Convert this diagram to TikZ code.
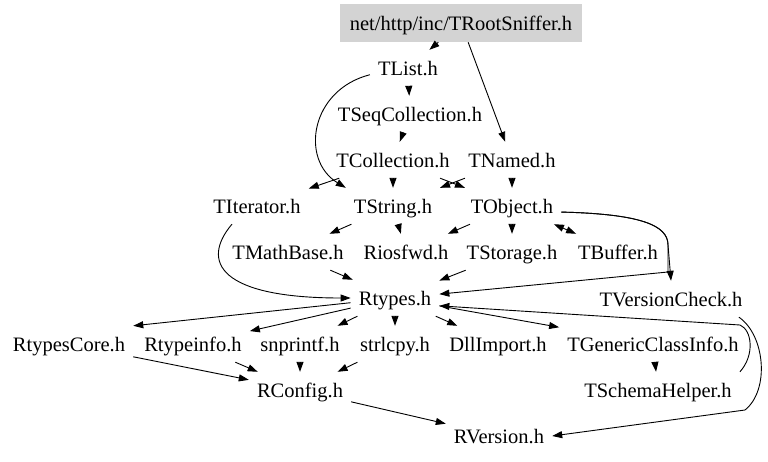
\documentclass[tikz,border=0pt]{standalone}
\usepackage{fontspec}
\setmainfont{Liberation Serif}
\usetikzlibrary{arrows.meta}
\definecolor{rootgray}{HTML}{D3D3D3}
\begin{document}
\begin{tikzpicture}[x=1pt,y=-1pt,
    >={Triangle[length=10pt,width=7pt]},
    hfile/.style={inner xsep=8pt,inner ysep=0pt,minimum height=36pt,
      text height=18pt,text depth=4pt,font=\fontsize{20.5}{24}\selectfont},
    hroot/.style={hfile,fill=rootgray,minimum width=242pt,minimum height=38pt},
    incl/.style={->,line width=0.9pt}]
    \useasboundingbox (0,0) rectangle (768,461);
    % header files, one row per include depth
    \node [hroot] (root) at (461,23) {net/http/inc/TRootSniffer.h};
    \node [hfile] (tlist) at (408,68) {TList.h};
    \node [hfile] (tseq) at (410,114) {TSeqCollection.h};
    \node [hfile] (tcoll) at (393,160) {TCollection.h};
    \node [hfile] (tnamed) at (512,160) {TNamed.h};
    \node [hfile] (titer) at (257,206) {TIterator.h};
    \node [hfile] (tstring) at (393,206) {TString.h};
    \node [hfile] (tobject) at (512,206) {TObject.h};
    \node [hfile] (tmath) at (288,252) {TMathBase.h};
    \node [hfile] (riosfwd) at (406,252) {Riosfwd.h};
    \node [hfile] (tstorage) at (512,252) {TStorage.h};
    \node [hfile] (tbuffer) at (618,252) {TBuffer.h};
    \node [hfile] (rtypes) at (395,298) {Rtypes.h};
    \node [hfile] (tversion) at (671,299) {TVersionCheck.h};
    \node [hfile] (rtcore) at (69,344) {RtypesCore.h};
    \node [hfile] (rtinfo) at (193,344) {Rtypeinfo.h};
    \node [hfile] (snprintf) at (300,344) {snprintf.h};
    \node [hfile] (strlcpy) at (395,344) {strlcpy.h};
    \node [hfile] (dllimp) at (498,344) {DllImport.h};
    \node [hfile] (tgci) at (653,344) {TGenericClassInfo.h};
    \node [hfile] (rconfig) at (300,390) {RConfig.h};
    \node [hfile] (tschema) at (658,390) {TSchemaHelper.h};
    \node [hfile] (rversion) at (499,436) {RVersion.h};
    % includes
    \draw [incl] (root) -- (tlist);
    \draw [incl] (root) -- (tnamed);
    \draw [incl] (tlist) -- (tseq);
    \draw [incl] (tlist.190) .. controls (310,90) and (300,160) .. (tstring.north west);
    \draw [incl] (tseq) -- (tcoll);
    \draw [incl] (tcoll) -- (titer);
    \draw [incl] (tcoll) -- (tstring);
    \draw [incl] (tcoll) -- (tobject);
    \draw [incl] (tnamed) -- (tstring);
    \draw [incl] (tnamed) -- (tobject);
    \draw [incl] (titer.216) .. controls (200,262) and (220,298) .. (rtypes.west);
    \draw [incl] (tstring) -- (tmath);
    \draw [incl] (tstring) -- (riosfwd);
    \draw [incl] (tobject) -- (riosfwd);
    \draw [incl] (tobject) -- (tstorage);
    \draw [incl,<->] (tobject) -- (tbuffer);
    \draw [incl] (tobject.-7) .. controls (640,214) and (668,225) .. (668,245) -- (tversion.north);
    \draw [incl] (tobject.-7) .. controls (640,214) and (668,225) .. (668,245) -- (668,272) -- (rtypes.5);
    \draw [incl] (tmath) -- (rtypes);
    \draw [incl] (tstorage) -- (rtypes);
    \draw [incl] (rtypes) -- (rtcore.north east);
    \draw [incl] (rtypes) -- (rtinfo);
    \draw [incl] (rtypes) -- (snprintf);
    \draw [incl] (rtypes) -- (strlcpy);
    \draw [incl] (rtypes) -- (dllimp);
    \draw [incl] (rtypes) -- (tgci);
    \draw [incl] (tgci) -- (tschema);
    \draw [incl] (tschema.north east) .. controls (755,355) and (752,330) .. (740,325) -- (rtypes.-10);
    \draw [incl] (tversion.-15) .. controls (765,335) and (770,390) .. (745,410) -- (rversion.east);
    \draw [incl] (rtcore) -- (rconfig);
    \draw [incl] (rtinfo) -- (rconfig);
    \draw [incl] (snprintf) -- (rconfig);
    \draw [incl] (strlcpy) -- (rconfig);
    \draw [incl] (rconfig) -- (rversion);
\end{tikzpicture}
\end{document}
